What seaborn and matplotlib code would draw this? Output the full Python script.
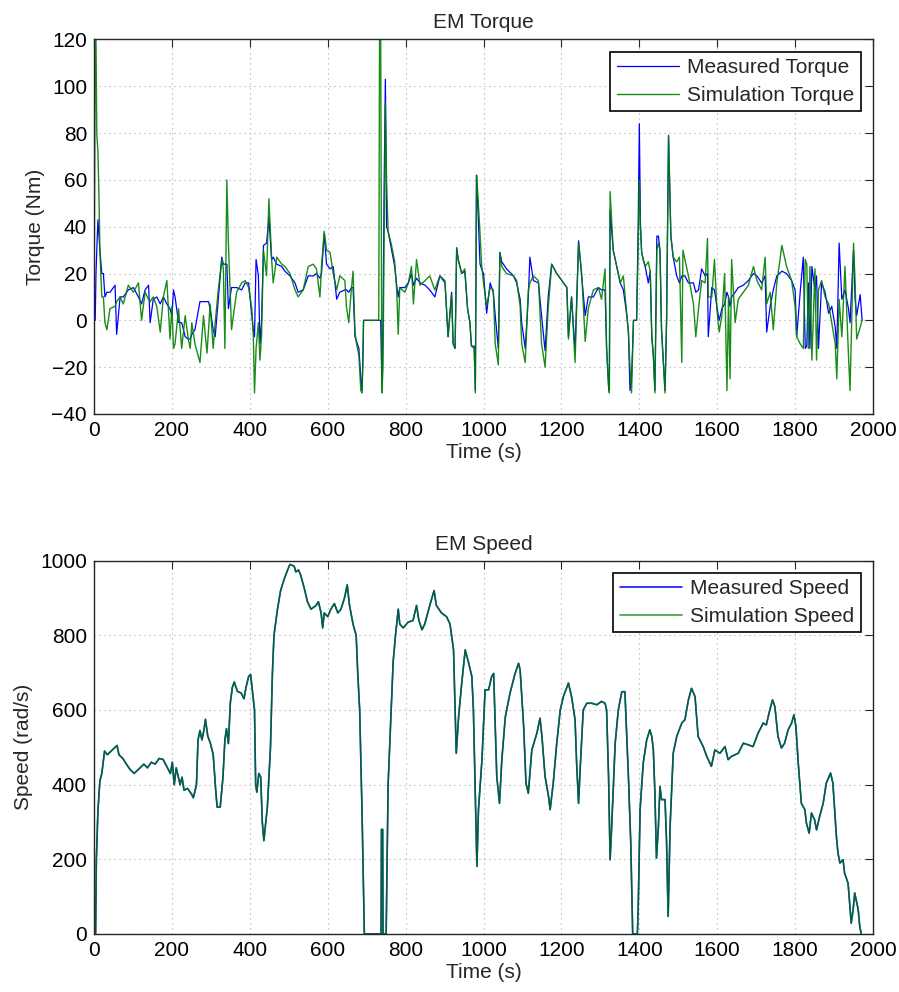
import numpy as np
import pandas as pd
import matplotlib
matplotlib.use("Agg")
import matplotlib.pyplot as plt
import seaborn as sns

# ---------------- Torque data ----------------
tq_t1 = [0, 3, 5, 7, 10, 13, 15, 20, 24, 28, 33, 41, 54, 58, 67, 75, 88, 101, 114, 122,
         131, 140, 144, 152, 161, 170, 178, 187, 195, 200, 204, 208, 217, 225, 234, 242, 247, 251, 259, 272,
         281, 290, 294, 298, 306, 311, 319, 328, 332, 336, 341, 345, 353, 366, 379, 388, 397, 405, 409, 412,
         416, 422, 426, 430, 435, 443, 449, 456, 460, 469, 482]
tq_meas1 = [0, 0, 20, 30, 43, 35, 30, 20, 20, 10, 12, 12, 15, -6, 10, 10, 13, 14, 10, 7,
            13, 15, -1, 9, 10, 7, 10, 7, 5, 2, 13, 10, -1, -1, -7, -8, -8, -6, -4, 8,
            8, 8, 8, 5, -4, -7, 9, 27, 24, 24, 24, 5, 14, 14, 13, 16, 16, 2, -4, -7,
            26, 19, -10, -1, 32, 33, 44, 26, 27, 24, 23]
tq_sim1 = [0, 120, 120, 80, 72, 50, 30, 10, 10, -1, -4, 5, 6, 8, 10, 7, 15, 12, 16, 0,
           12, 9, 8, 10, 6, -5, 10, 17, -8, 6, -12, -10, 5, -12, 2, -8, -12, -1, -10, -18,
           2, -14, -4, 7, -12, -1, 13, 26, 22, -12, 60, 33, -4, 12, 16, 17, 14, 5, -7, -31,
           -12, -1, -17, -7, 30, 19, 52, 26, 16, 27, 24]

tq_t2 = [490, 503, 516, 524, 537, 550, 563, 571, 580, 584, 591, 597, 606, 614, 623, 631, 644, 648, 654, 661,
         665, 670, 674, 680, 685, 688, 690, 692, 731, 733, 736, 739, 742, 745, 748, 751, 755, 764, 772, 777,
         781, 785, 798, 807, 815, 820, 828, 837, 850, 862, 875, 888, 901, 909, 918, 922, 927, 931, 935, 944,
         952, 959, 965, 969, 976, 979, 982, 985, 991, 995]
tq_meas2 = [21, 19, 16, 12, 13, 19, 19, 20, 18, 20, 37, 24, 22, 23, 9, 12, 13, 13, 12, 14,
            14, -7, -9, -12, -25, -30, -18, 0, 0, 0, 0, -28, 0, 60, 103, 40, 38, 30, 23, 15,
            10, 14, 14, 16, 20, 15, 18, 16, 15, 13, 10, 19, 16, -7, 12, -10, -12, 31, 26, 20,
            21, 5, -1, -11, -11, -30, 62, 50, 24, 22]
tq_sim2 = [23, 20, 13, 10, 13, 23, 24, 22, 10, 23, 38, 30, 29, 20, 13, 19, 17, 6, -1, 14,
           21, -5, -10, -15, -30, -31, -20, 0, 0, 120, 120, -31, -20, 40, 93, 60, 38, 32, 25, 13,
           -6, 14, 12, 16, 23, 7, 26, 15, 17, 19, 13, 19, 17, -7, 11, -10, -12, 31, 26, 20,
           22, 5, -1, -11, -12, -31, 62, 55, 37, 24]

tq_t3 = [1000, 1008, 1017, 1025, 1030, 1038, 1042, 1047, 1059, 1077, 1085, 1094, 1098, 1107, 1115, 1119, 1128, 1141, 1149, 1158,
         1166, 1175, 1188, 1201, 1214, 1218, 1226, 1235, 1244, 1252, 1261, 1269, 1282, 1295, 1303, 1312, 1316, 1321, 1323, 1325,
         1333, 1342, 1351, 1359, 1368, 1372, 1376, 1380, 1385, 1393, 1397, 1400, 1403, 1406, 1410, 1415, 1423, 1428, 1432, 1436,
         1440, 1445, 1449, 1453, 1457, 1466, 1470, 1475, 1481, 1487, 1496]
tq_meas3 = [20, 3, 16, 12, 2, -12, 29, 25, 22, 19, 16, 9, -1, -12, 10, 27, 17, 16, 2, -13,
            10, 24, 20, 17, 14, -7, 10, -13, 34, 19, 2, 10, 10, 14, 13, 13, -12, -28, -30, 47,
            30, 23, 16, 13, 2, -5, -30, -25, 0, 0, 40, 84, 40, 29, 26, 23, 16, 21, -7, -15,
            -30, 36, 36, 30, -4, -30, 0, 79, 36, 27, 19]
tq_sim3 = [16, 6, 14, 13, -10, -19, 29, 23, 20, 19, 17, 6, -10, -18, 13, 16, 19, 17, -10, -20,
           5, 24, 20, 17, 14, -8, 10, -18, 33, 20, -9, 5, 13, 14, 9, 22, -12, -28, -31, 55,
           30, 23, 16, 19, 2, -5, -20, -31, 0, 0, 30, 60, 40, 29, 26, 23, 25, 21, -7, -15,
           -31, 30, 33, 30, -4, -31, 0, 79, 36, 27, 25]

tq_t4 = [1503, 1509, 1512, 1517, 1526, 1539, 1545, 1552, 1560, 1569, 1575, 1577, 1586, 1593, 1599, 1605, 1612, 1619, 1625, 1629,
         1633, 1637, 1646, 1654, 1667, 1680, 1693, 1702, 1714, 1723, 1727, 1736, 1744, 1753, 1766, 1778, 1791, 1800, 1804, 1813,
         1821, 1826, 1830, 1834, 1838, 1843, 1851, 1855, 1860, 1868, 1877, 1886, 1894, 1903, 1907, 1913, 1920, 1928, 1937, 1941,
         1950, 1954, 1958, 1967, 1972]
tq_meas4 = [16, 19, 19, 19, 16, 16, 12, 13, 22, 19, 20, -7, 14, 13, 6, 0, 5, 7, 12, 10,
            6, 10, 12, 14, 15, 17, 20, 19, 16, 19, -5, 6, 13, 19, 21, 20, 17, 13, -7, 12,
            27, -12, -11, 16, -12, 23, 13, 19, -12, 16, 12, 3, 6, -3, -12, 33, 9, 13, 5, -1,
            30, 9, 2, 11, 0]
tq_sim4 = [27, -18, 30, 26, 19, 7, -7, 5, 17, 16, 35, 10, 10, 26, 5, -5, 2, 20, -30, 10,
           -25, 26, -1, 9, 12, 15, 23, 17, 13, 27, 7, 12, -4, 16, 32, 23, 17, 6, -7, -10,
           -12, 26, 24, -12, 23, -17, 22, -17, 13, 17, 10, 7, -1, -10, -25, 9, -7, 23, -15, -30,
           33, 16, -8, -3, 0]

# ---------------- Speed data ----------------
sp_t1 = [0, 4, 6, 10, 15, 20, 27, 34, 44, 59, 64, 74, 83, 93, 103, 118, 128, 137, 147, 157,
         167, 177, 186, 196, 201, 206, 211, 221, 226, 231, 240, 250, 255, 263, 267, 272, 277, 282, 286, 292,
         299, 306, 312, 316, 324, 331, 336, 340, 345, 350, 355, 360, 368, 378, 385, 390, 397, 402, 412, 415,
         418, 423, 428, 432, 436, 445, 453, 458, 462, 471, 479, 488, 497]
sp_v1 = [0, 0, 200, 330, 410, 430, 490, 480, 490, 505, 480, 470, 455, 440, 430, 445, 455, 445, 460, 455,
         470, 468, 450, 430, 460, 400, 445, 400, 420, 385, 390, 375, 365, 400, 520, 545, 520, 545, 575, 530,
         510, 480, 390, 340, 340, 420, 520, 550, 510, 620, 660, 675, 650, 645, 630, 660, 690, 695, 600, 400,
         380, 430, 420, 300, 250, 340, 500, 700, 800, 870, 920, 950, 975]

sp_t2 = [503, 514, 518, 525, 531, 540, 548, 557, 570, 576, 583, 587, 591, 600, 608, 617, 626, 634, 643, 650,
         656, 665, 673, 677, 682, 688, 694, 733, 737, 738, 741, 742, 750, 755, 759, 763, 768, 774, 781, 785,
         794, 806, 819, 828, 834, 842, 849, 862, 873, 879, 892, 905, 914, 923, 927, 930, 936, 944, 953, 962,
         970, 974, 983, 987, 996]
sp_v2 = [990, 985, 970, 975, 960, 925, 890, 870, 880, 890, 860, 820, 860, 850, 870, 885, 860, 870, 900, 935,
         880, 830, 800, 700, 600, 330, 0, 0, 0, 280, 280, 0, 0, 400, 500, 600, 730, 800, 870, 830,
         820, 835, 840, 880, 840, 815, 830, 880, 920, 880, 860, 850, 830, 761, 600, 484, 582, 672, 761, 725,
         690, 600, 181, 333, 467]

sp_t3 = [1004, 1013, 1021, 1026, 1030, 1034, 1041, 1047, 1056, 1068, 1081, 1090, 1094, 1103, 1109, 1115, 1124, 1137, 1145, 1150,
         1158, 1167, 1171, 1179, 1188, 1197, 1205, 1218, 1226, 1235, 1239, 1244, 1248, 1256, 1265, 1278, 1291, 1303, 1312, 1316,
         1321, 1325, 1329, 1338, 1346, 1355, 1363, 1372, 1378, 1383, 1395, 1397, 1402, 1410, 1419, 1427, 1432, 1436, 1440, 1444,
         1449, 1453, 1457, 1466, 1470, 1474, 1479, 1487, 1496]
sp_v3 = [654, 654, 690, 698, 556, 422, 350, 467, 582, 645, 698, 725, 707, 556, 404, 377, 493, 538, 578, 529,
         422, 368, 333, 404, 511, 600, 636, 672, 636, 574, 458, 350, 440, 600, 618, 618, 614, 623, 618, 600,
         422, 199, 288, 511, 600, 649, 649, 422, 244, 0, 0, 65, 333, 458, 520, 547, 529, 493, 377, 203,
         288, 395, 360, 360, 244, 47, 288, 484, 529]

sp_t4 = [1509, 1517, 1526, 1534, 1543, 1551, 1564, 1573, 1585, 1594, 1607, 1620, 1628, 1637, 1654, 1667, 1679, 1692, 1705, 1718,
         1726, 1735, 1742, 1748, 1756, 1765, 1773, 1782, 1791, 1797, 1802, 1808, 1816, 1825, 1829, 1836, 1842, 1850, 1855, 1863,
         1872, 1880, 1891, 1897, 1906, 1910, 1915, 1923, 1927, 1936, 1944, 1949, 1953, 1962, 1966, 1970]
sp_v4 = [565, 574, 627, 658, 636, 529, 502, 476, 449, 493, 484, 502, 467, 476, 484, 511, 507, 502, 538, 565,
         560, 600, 627, 609, 529, 498, 511, 547, 565, 587, 556, 458, 350, 333, 297, 270, 324, 306, 279, 315,
         350, 404, 431, 404, 261, 217, 190, 199, 163, 136, 29, 65, 110, 65, 20, 0]

x_ticks = list(range(0, 2001, 200))
torque_ticks = list(range(-40, 121, 20))
speed_ticks = list(range(0, 1001, 200))

# ---------------- Build tables ----------------
torque_df = pd.DataFrame({
    "t": tq_t1 + tq_t2 + tq_t3 + tq_t4,
    "meas": tq_meas1 + tq_meas2 + tq_meas3 + tq_meas4,
    "sim": tq_sim1 + tq_sim2 + tq_sim3 + tq_sim4,
})
speed_df = pd.DataFrame({
    "t": sp_t1 + sp_t2 + sp_t3 + sp_t4,
    "meas": sp_v1 + sp_v2 + sp_v3 + sp_v4,
})
speed_df["sim"] = speed_df["meas"]

# ---------------- Style ----------------
sns.set_style("white")
plt.rcParams["font.family"] = ["Liberation Sans", "DejaVu Sans"]
plt.rcParams["font.size"] = 15
plt.rcParams["axes.unicode_minus"] = True

BLUE = "#0000ff"
GREEN = "#008000"
FS = 15

fig = plt.figure(figsize=(8.99, 9.92), dpi=100)
ax1 = fig.add_axes([0.1046, 0.5827, 0.8665, 0.3775])
ax2 = fig.add_axes([0.1046, 0.0585, 0.8665, 0.3763])


def style_axes(ax, yticks, ylim, ylabel, title):
    ax.set_xlim(0, 2000)
    ax.set_ylim(*ylim)
    ax.set_xticks(x_ticks)
    ax.set_yticks(yticks)
    ax.grid(True, linestyle=(0, (1, 3.5)), color="#a8a8a8", linewidth=0.8)
    ax.tick_params(direction="in", length=6, width=0.8, top=True, right=True,
                   labelsize=FS, pad=5, colors="#262626", labelcolor="black")
    for s in ax.spines.values():
        s.set_visible(True)
        s.set_color("#262626")
        s.set_linewidth(1.0)
    ax.set_xlabel("Time (s)", fontsize=FS, labelpad=2)
    ax.set_ylabel(ylabel, fontsize=FS, labelpad=5)
    ax.set_title(title, fontsize=FS, pad=8)
    leg = ax.legend(loc="upper right", fontsize=FS, frameon=True, fancybox=False,
                    edgecolor="black", handlelength=3.0, handletextpad=0.38,
                    borderpad=0.3, labelspacing=0.42, borderaxespad=0.6)
    leg.get_frame().set_linewidth(1.2)
    leg.get_frame().set_alpha(1)


sns.lineplot(data=torque_df, x="t", y="meas", ax=ax1, color=BLUE, linewidth=0.9,
             label="Measured Torque", estimator=None, sort=False)
sns.lineplot(data=torque_df, x="t", y="sim", ax=ax1, color=GREEN, linewidth=1.0,
             label="Simulation Torque", estimator=None, sort=False, alpha=0.9)
style_axes(ax1, torque_ticks, (-40, 120), "Torque (Nm)", "EM Torque")

sns.lineplot(data=speed_df, x="t", y="meas", ax=ax2, color=BLUE, linewidth=1.1,
             label="Measured Speed", estimator=None, sort=False)
sns.lineplot(data=speed_df, x="t", y="sim", ax=ax2, color=GREEN, linewidth=1.2,
             label="Simulation Speed", estimator=None, sort=False, alpha=0.75)
style_axes(ax2, speed_ticks, (0, 1000), "Speed (rad/s)", "EM Speed")

fig.savefig("out.png", dpi=100, facecolor="white")
